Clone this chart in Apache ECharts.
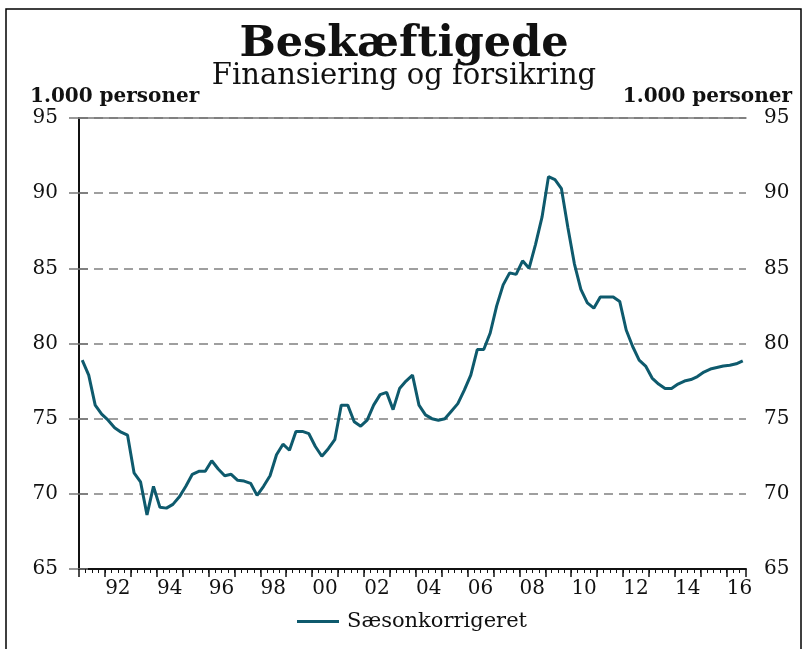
<!DOCTYPE html>
<html>
<head>
<meta charset="utf-8">
<title>Beskæftigede</title>
<script src="https://cdn.jsdelivr.net/npm/echarts@6/dist/echarts.min.js"></script>
<style>
    html, body { margin: 0; padding: 0; background: #fff; }
    #chart { width: 808px; height: 649px; }
</style>
</head>
<body>
<div id="chart"></div>
<script>
// kvartaler 1991K1 - 2016K3
var firstYear = 1991;
var yearLabels = ["92", "94", "96", "98", "00", "02", "04", "06", "08", "10", "12", "14", "16"];
var yTicks = [65, 70, 75, 80, 85, 90, 95];

// Sæsonkorrigeret, 1.000 personer
var seasonAdjusted = [
    78.9, 77.9, 75.9, 75.3, 74.9, 74.4, 74.1, 73.9, 71.4, 70.8,
    68.6, 70.5, 69.1, 69.05, 69.3, 69.8, 70.5, 71.3, 71.5, 71.5,
    72.2, 71.65, 71.2, 71.3, 70.9, 70.85, 70.7, 69.9, 70.5, 71.2,
    72.6, 73.3, 72.9, 74.15, 74.15, 74.0, 73.15, 72.5, 73.0, 73.6,
    75.9, 75.9, 74.8, 74.5, 74.9, 75.9, 76.6, 76.75, 75.6, 77.0,
    77.5, 77.9, 75.9, 75.25, 75.0, 74.9, 75.0, 75.5, 76.0, 76.9,
    77.9, 79.6, 79.6, 80.7, 82.5, 83.9, 84.7, 84.6, 85.5, 85.0,
    86.6, 88.4, 91.1, 90.9, 90.3, 87.7, 85.3, 83.6, 82.7, 82.35,
    83.1, 83.1, 83.1, 82.8, 80.9, 79.8, 78.9, 78.5, 77.7, 77.3,
    77.0, 77.0, 77.3, 77.5, 77.6, 77.8, 78.1, 78.3, 78.4, 78.5,
    78.55, 78.65, 78.85
];

var font = "DejaVu Serif";
var quarters = seasonAdjusted.length;

// punkt midt i kvartalet
var points = [];
for (var i = 0; i < quarters; i++) {
    points.push([i + 0.5, seasonAdjusted[i]]);
}

var chart = echarts.init(document.getElementById("chart"), null, { renderer: "canvas" });

var option = {
    animation: false,
    backgroundColor: "#fff",
    title: [
        {
            text: "Beskæftigede",
            left: "center",
            top: 18,
            textStyle: { fontFamily: font, fontSize: 43, fontWeight: "bold", color: "#111" }
        },
        {
            text: "Finansiering og forsikring",
            left: "center",
            top: 57,
            textStyle: { fontFamily: font, fontSize: 29, fontWeight: "normal", color: "#111" }
        }
    ],
    graphic: [
        {
            type: "rect",
            shape: { x: 6, y: 9, width: 795, height: 700 },
            style: { fill: "none", stroke: "#000", lineWidth: 1.5 },
            silent: true
        },
        {
            type: "text",
            left: 30,
            top: 87,
            style: { text: "1.000 personer", fontFamily: font, fontSize: 20, fontWeight: "bold", fill: "#111" }
        },
        {
            type: "text",
            right: 16,
            top: 87,
            style: { text: "1.000 personer", fontFamily: font, fontSize: 20, fontWeight: "bold", fill: "#111" }
        }
    ],
    legend: {
        left: 292,
        top: 606,
        icon: "rect",
        itemWidth: 42,
        itemHeight: 3,
        textStyle: { fontFamily: font, fontSize: 21, color: "#111", padding: [0, 0, 0, 3] },
        data: ["Sæsonkorrigeret"]
    },
    grid: {
        left: 79,
        right: 62,
        top: 118,
        bottom: 80,
        containLabel: false
    },
    xAxis: [
        {
            // kvartalsstreger + årstal
            type: "value",
            position: "bottom",
            min: 0,
            max: quarters,
            interval: 1,
            axisLine: { show: true, lineStyle: { color: "#111", width: 2 } },
            axisTick: { show: true, length: 4, lineStyle: { color: "#111", width: 1 } },
            axisLabel: {
                margin: 10,
                fontFamily: font,
                fontSize: 20,
                color: "#111",
                showMinLabel: false,
                showMaxLabel: false,
                formatter: function (v) {
                    var k = (v - 6) / 8;
                    if (k >= 0 && k === Math.floor(k) && k < yearLabels.length) {
                        return yearLabels[k];
                    }
                    return "";
                }
            },
            splitLine: { show: false }
        },
        {
            // årsstreger
            type: "value",
            position: "bottom",
            min: 0,
            max: quarters,
            interval: 4,
            axisLine: { show: false },
            axisTick: { show: true, length: 8, lineStyle: { color: "#111", width: 1.5 } },
            axisLabel: { show: false },
            splitLine: { show: false }
        },
        {
            type: "value",
            position: "top",
            min: 0,
            max: quarters,
            axisLine: { show: true, lineStyle: { color: "#777", width: 1.5 } },
            axisTick: { show: false },
            axisLabel: { show: false },
            splitLine: { show: false }
        }
    ],
    yAxis: [
        {
            type: "value",
            position: "left",
            min: yTicks[0],
            max: yTicks[yTicks.length - 1],
            interval: 5,
            axisLine: { show: true, lineStyle: { color: "#111", width: 2 } },
            axisTick: { show: true, length: 10, lineStyle: { color: "#777", width: 1.5 } },
            axisLabel: { margin: 21, fontFamily: font, fontSize: 20, color: "#111" },
            splitLine: { show: true, lineStyle: { color: "#808080", width: 1.5, type: [9, 6] } }
        },
        {
            type: "value",
            position: "right",
            min: yTicks[0],
            max: yTicks[yTicks.length - 1],
            interval: 5,
            axisLine: { show: true, lineStyle: { color: "#111", width: 2 } },
            axisTick: { show: true, length: 9, lineStyle: { color: "#777", width: 1.5 } },
            axisLabel: { margin: 18, fontFamily: font, fontSize: 20, color: "#111" },
            splitLine: { show: false }
        }
    ],
    series: [
        {
            name: "Sæsonkorrigeret",
            type: "line",
            xAxisIndex: 0,
            yAxisIndex: 0,
            showSymbol: false,
            symbol: "none",
            lineStyle: { color: "#0e5a6d", width: 3 },
            itemStyle: { color: "#0e5a6d" },
            data: points
        }
    ]
};

chart.setOption(option);
</script>
</body>
</html>
